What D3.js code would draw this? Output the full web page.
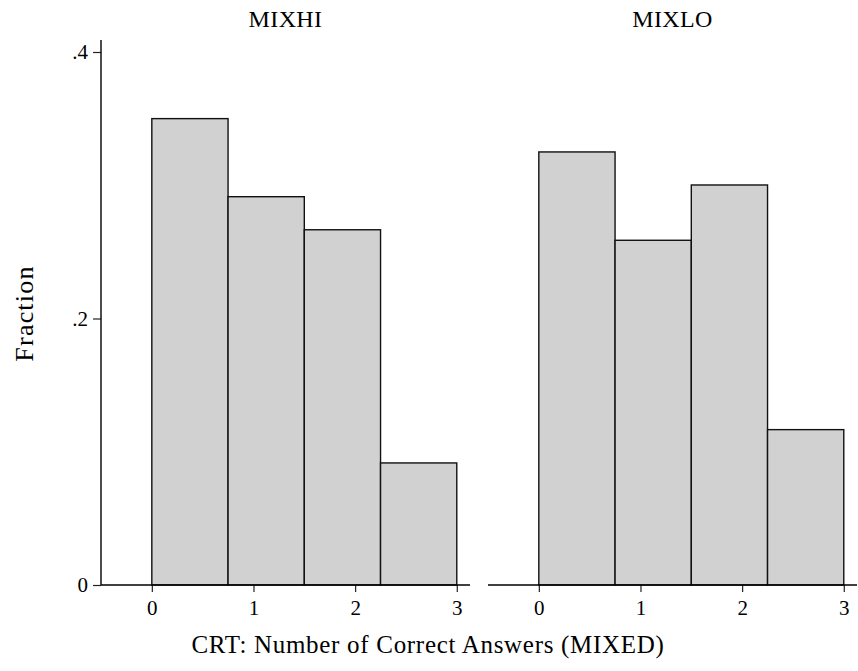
<!DOCTYPE html>
<html>
<head>
<meta charset="utf-8">
<script src="https://cdn.jsdelivr.net/npm/d3@7/dist/d3.min.js"></script>
<style>
  html, body { margin: 0; padding: 0; background: #fff; }
  svg { display: block; }
  text { font-family: "Liberation Serif", "Times New Roman", serif; fill: #000; }
</style>
</head>
<body>
<svg id="chart" width="858" height="671"></svg>
<script>
// ---- data ----
const panels = ["MIXHI", "MIXLO"];
const binStarts = [0, 0.75, 1.5, 2.25];
const binWidth = 0.75;
const mixhiValues = [0.350, 0.2914, 0.2666, 0.0916];
const mixloValues = [0.325, 0.2587, 0.3002, 0.1166];
const xTicks = [0, 1, 2, 3];
const yTicks = [0, 0.2, 0.4];
const yTickLabels = ["0", ".2", ".4"];
const xTitle = "CRT: Number of Correct Answers (MIXED)";
const yTitle = "Fraction";

const seriesByPanel = [mixhiValues, mixloValues];

const svg = d3.select("#chart");

const y = d3.scaleLinear().domain([0, 0.4]).range([585, 52]);
const panelRanges = [[101, 470], [488, 857]];
const xDomain = [-0.5, 3.13];

panels.forEach((name, i) => {
  const x = d3.scaleLinear().domain(xDomain).range(panelRanges[i]);
  const g = svg.append("g");
  const vals = seriesByPanel[i];

  // bars
  g.selectAll("rect.bar")
    .data(binStarts.map((s, k) => ({ s, v: vals[k] })))
    .enter().append("rect")
    .attr("class", "bar")
    .attr("x", d => x(d.s))
    .attr("width", d => x(d.s + binWidth) - x(d.s))
    .attr("y", d => y(d.v))
    .attr("height", d => y(0) - y(d.v))
    .attr("fill", "#d1d1d1")
    .attr("stroke", "#111")
    .attr("stroke-width", 1.4);

  // x axis
  const xAxis = d3.axisBottom(x)
    .tickValues(xTicks)
    .tickFormat(d3.format("d"))
    .tickSize(7)
    .tickSizeOuter(0)
    .tickPadding(8);
  const xa = g.append("g").attr("transform", `translate(0,${y(0)})`).call(xAxis);
  xa.select(".domain").remove();
  xa.selectAll(".tick line").attr("stroke", "#222").attr("stroke-width", 1.2);
  xa.selectAll(".tick text")
    .style("font-family", "'Liberation Serif', serif")
    .style("font-size", "21px")
    .attr("fill", "#000");
  g.append("line")
    .attr("x1", x(xDomain[0])).attr("x2", x(xDomain[1]))
    .attr("y1", y(0)).attr("y2", y(0))
    .attr("stroke", "#000").attr("stroke-width", 1.4);

  // panel title
  g.append("text")
    .attr("x", (panelRanges[i][0] + panelRanges[i][1]) / 2)
    .attr("y", 27)
    .attr("text-anchor", "middle")
    .style("font-size", "24px")
    .style("letter-spacing", "0.4px")
    .text(name);

  if (i === 0) {
    const yAxis = d3.axisLeft(y)
      .tickValues(yTicks)
      .tickFormat((d, k) => yTickLabels[k])
      .tickSize(8)
      .tickSizeOuter(0)
      .tickPadding(5);
    const ya = g.append("g").attr("transform", `translate(${x(xDomain[0])},0)`).call(yAxis);
    ya.select(".domain").remove();
    ya.selectAll(".tick line").attr("stroke", "#222").attr("stroke-width", 1.2);
    ya.selectAll(".tick text")
      .style("font-family", "'Liberation Serif', serif")
      .style("font-size", "21px")
      .attr("fill", "#000");
    g.append("line")
      .attr("x1", x(xDomain[0])).attr("x2", x(xDomain[0]))
      .attr("y1", y(0)).attr("y2", y(0.409))
      .attr("stroke", "#000").attr("stroke-width", 1.4);
  }
});

// axis titles
svg.append("text")
  .attr("x", 428)
  .attr("y", 653)
  .attr("text-anchor", "middle")
  .style("font-size", "25px")
  .style("letter-spacing", "0.7px")
  .text(xTitle);

svg.append("text")
  .attr("transform", `translate(33,${(y(0) + y(0.4)) / 2 - 5}) rotate(-90)`)
  .attr("text-anchor", "middle")
  .style("font-size", "26px")
  .style("letter-spacing", "1.2px")
  .text(yTitle);
</script>
</body>
</html>
